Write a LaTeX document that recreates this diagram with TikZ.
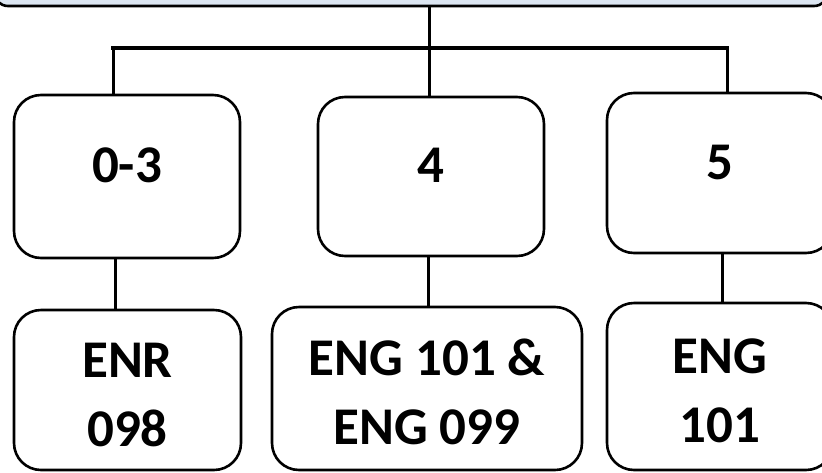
\documentclass[tikz,border=0pt]{standalone}
\usepackage{fontspec}
\setmainfont{Carlito}
\usepackage{tikz}
\usetikzlibrary{calc}
\usepackage{xcolor}
\definecolor{light_blue}{HTML}{DCE6F2}

\begin{document}
\begin{tikzpicture}[x=1pt, y=-1pt,
	box/.style={draw, line width=2.6pt, rounded corners=27pt, inner sep=0pt, align=center, font=\fontsize{53}{69}\selectfont\bfseries},
	score/.style={box, minimum width=226pt, text height=34pt, text depth=22pt},
	course/.style={box, text height=120pt, text depth=8pt},
	link/.style={line width=3pt}]
	\useasboundingbox (0, 0) rectangle (822, 472);
	\clip (0, 0) rectangle (822, 472);
	\node[draw, line width=2.6pt, rounded corners=14pt, fill=light_blue, minimum width=834pt, minimum height=60pt] (root) at (411, -24) {};
	\node[score, minimum height=163pt] (S1) at (127, 176.5) {0-3};
	\node[score, minimum height=159pt] (S2) at (431, 176.5) {4};
	\node[score, minimum height=160pt] (S3) at (720, 173) {5};
	\node[course, minimum width=227pt, minimum height=160pt] (C1) at (127.5, 390) {ENR\\098};
	\node[course, minimum width=310pt, minimum height=163pt] (C2) at (427, 388.5) {ENG 101 \&\\ENG 099};
	\node[course, minimum width=226pt, minimum height=167pt] (C3) at (720, 386.5) {ENG\\101};
	\coordinate (J) at (429, 48);
	\coordinate (J1) at (113, 48);
	\coordinate (J3) at (727, 48);
	\coordinate (K1) at (115, 284);
	\coordinate (K2) at (428, 284);
	\coordinate (K3) at (722, 284);
	\draw[link] (root.south -| J) -- (J);
	\draw[line width=4pt, line cap=rect] (J1) -- (J3);
	\draw[link] (J1) -- (J1 |- S1.north);
	\draw[link] (J) -- (J |- S2.north);
	\draw[link] (J3) -- (J3 |- S3.north);
	\draw[link] (K1 |- S1.south) -- (K1 |- C1.north);
	\draw[link] (K2 |- S2.south) -- (K2 |- C2.north);
	\draw[link] (K3 |- S3.south) -- (K3 |- C3.north);
\end{tikzpicture}
\end{document}
